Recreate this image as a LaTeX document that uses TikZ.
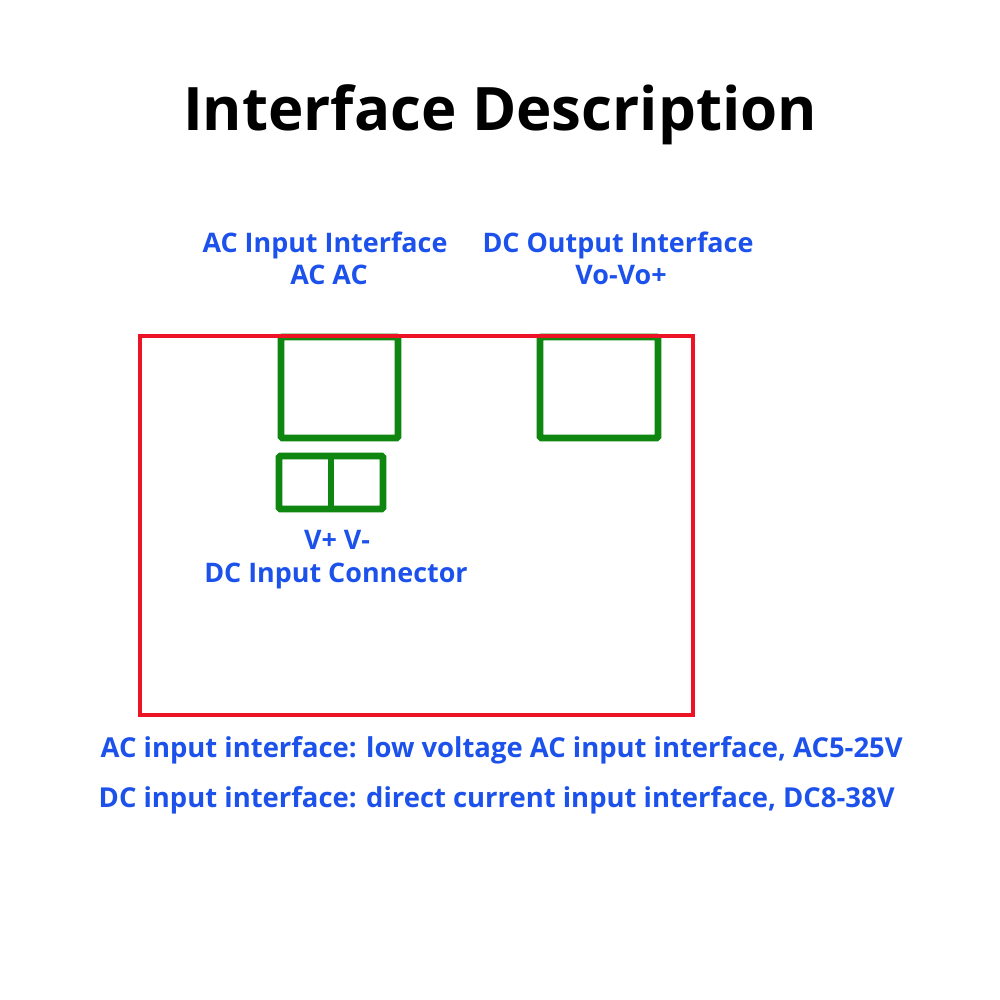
\documentclass[tikz,border=0pt]{standalone}
\usepackage{fontspec}
\setmainfont{Open Sans}
\definecolor{labelblue}{RGB}{28,82,235}
\definecolor{boardred}{RGB}{236,20,36}
\definecolor{termgreen}{RGB}{14,134,16}

\begin{document}
\begin{tikzpicture}[x=0.01cm, y=-0.01cm,
    bluetext/.style={text=labelblue, font=\bfseries\fontsize{7.65}{9}\selectfont, inner sep=0pt, anchor=base},
    notetext/.style={bluetext, font=\bfseries\fontsize{7.8}{9}\selectfont, anchor=base west},
    terminal/.style={draw=termgreen, line width=1.9pt, rounded corners=0.4pt}]
    \useasboundingbox[fill=white] (0,0) rectangle (1000,1000);
    % Title
    \node[font=\bfseries\fontsize{17.05}{20}\selectfont, inner sep=0pt, anchor=base] (title) at (500,130) {Interface Description};
    % Top labels
    \node[bluetext] (acname) at (325,252) {AC Input Interface};
    \node[bluetext] (acpins) at (329,284) {AC AC};
    \node[bluetext] (dcname) at (618,252) {DC Output Interface};
    \node[bluetext] (dcpins) at (621,284) {Vo-Vo+};
    % Terminals
    \draw[terminal] (281,337) rectangle (398,438);
    \draw[terminal] (540,337) rectangle (658,438);
    \draw[terminal] (279,456) rectangle (383,509);
    \draw[termgreen, line width=1.9pt] (331,456) -- (331,509);
    % Board
    \draw[boardred, line width=0.9pt] (140,336) rectangle (693,715);
    % Connector labels
    \node[bluetext] (dcpm) at (337,549) {V+ V-};
    \node[bluetext] (dcconn) at (336,582) {DC Input Connector};
    % Notes
    \node[notetext] (acnote) at (100,757) {AC input interface: low voltage AC input interface, AC5-25V};
    \node[notetext] (dcnote) at (98,807) {DC input interface: direct current input interface, DC8-38V};
\end{tikzpicture}
\end{document}
